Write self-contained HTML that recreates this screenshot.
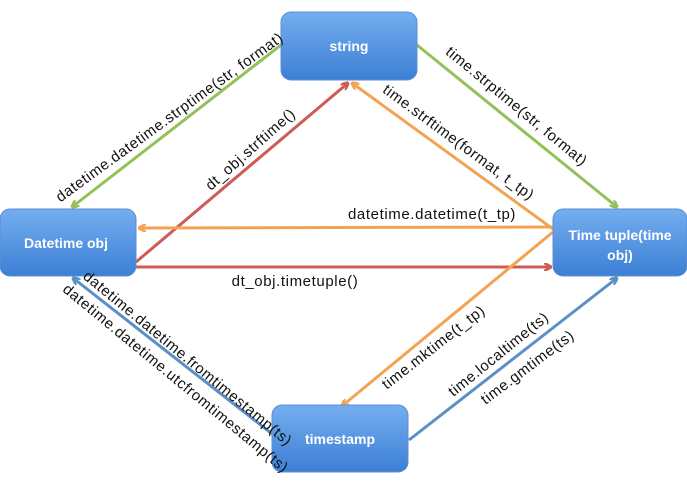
<!DOCTYPE html>
<html><head><meta charset="utf-8"><style>
html,body{margin:0;padding:0;background:#fff;}
svg{display:block;}
text{font-family:"Liberation Sans",sans-serif;}
</style></head><body>
<svg width="687" height="483" viewBox="0 0 687 483" xmlns="http://www.w3.org/2000/svg">
<defs>
<linearGradient id="g" x1="0" y1="0" x2="0" y2="1">
<stop offset="0" stop-color="#74aef0"/><stop offset="1" stop-color="#3c7fd4"/>
</linearGradient>
<marker id="ag" markerWidth="8" markerHeight="8" refX="7" refY="4" orient="auto" markerUnits="userSpaceOnUse"><path d="M0,0 L8,4 L0,8" fill="none" stroke="#94c05a" stroke-width="2.5"/></marker>
<marker id="ar" markerWidth="8" markerHeight="8" refX="7" refY="4" orient="auto" markerUnits="userSpaceOnUse"><path d="M0,0 L8,4 L0,8" fill="none" stroke="#cf5b56" stroke-width="2.5"/></marker>
<marker id="ao" markerWidth="8" markerHeight="8" refX="7" refY="4" orient="auto" markerUnits="userSpaceOnUse"><path d="M0,0 L8,4 L0,8" fill="none" stroke="#f2a452" stroke-width="2.5"/></marker>
<marker id="ab" markerWidth="8" markerHeight="8" refX="7" refY="4" orient="auto" markerUnits="userSpaceOnUse"><path d="M0,0 L8,4 L0,8" fill="none" stroke="#5b8fc8" stroke-width="2.5"/></marker>
</defs>
<g stroke-width="3" fill="none">
<line x1="281" y1="45" x2="72" y2="207" stroke="#94c05a" marker-end="url(#ag)"/>
<line x1="417" y1="45" x2="617" y2="207" stroke="#94c05a" marker-end="url(#ag)"/>
<line x1="136" y1="262" x2="348" y2="83" stroke="#cf5b56" marker-end="url(#ar)"/>
<line x1="553" y1="229" x2="352" y2="83" stroke="#f2a452" marker-end="url(#ao)"/>
<line x1="553" y1="227" x2="139" y2="228" stroke="#f2a452" marker-end="url(#ao)"/>
<line x1="136" y1="267" x2="551" y2="267" stroke="#cf5b56" marker-end="url(#ar)"/>
<line x1="553" y1="232" x2="342" y2="406" stroke="#f2a452" marker-end="url(#ao)"/>
<line x1="409" y1="440" x2="617" y2="278" stroke="#5b8fc8" marker-end="url(#ab)"/>
<line x1="276" y1="437" x2="73" y2="278" stroke="#5b8fc8" marker-end="url(#ab)"/>
</g>
<g fill="url(#g)" stroke="#5a8fd0" stroke-width="1">
<rect x="281" y="12" width="136" height="68" rx="10"/>
<rect x="0" y="209" width="136" height="67" rx="10"/>
<rect x="553" y="209" width="134" height="67" rx="10"/>
<rect x="272" y="405" width="136" height="67" rx="10"/>
</g>
<g fill="#fff" font-size="14" font-weight="bold" text-anchor="middle">
<text x="349" y="51">string</text>
<text x="66" y="248">Datetime obj</text>
<text x="620" y="240">Time tuple(time</text>
<text x="620" y="260">obj)</text>
<text x="340" y="444">timestamp</text>
</g>
<g fill="#111" font-size="15" letter-spacing="0.6" text-anchor="middle" dominant-baseline="middle">
<text transform="translate(170,118) rotate(-36)">datetime.datetime.strptime(str, format)</text>
<text transform="translate(516,107) rotate(39.5)">time.strptime(str, format)</text>
<text transform="translate(251,150) rotate(-41.6)">dt_obj.strftime()</text>
<text transform="translate(458,143) rotate(36.4)">time.strftime(format, t_tp)</text>
<text x="432" y="215">datetime.datetime(t_tp)</text>
<text x="295" y="282">dt_obj.timetuple()</text>
<text transform="translate(187,359) rotate(39.5)">datetime.datetime.fromtimestamp(ts)</text>
<text transform="translate(175,379) rotate(39.5)">datetime.datetime.utcfromtimestamp(ts)</text>
<text transform="translate(434,348) rotate(-38)">time.mktime(t_tp)</text>
<text transform="translate(499,355) rotate(-39)">time.localtime(ts)</text>
<text transform="translate(528,368) rotate(-37)">time.gmtime(ts)</text>
</g>
</svg>
</body></html>
